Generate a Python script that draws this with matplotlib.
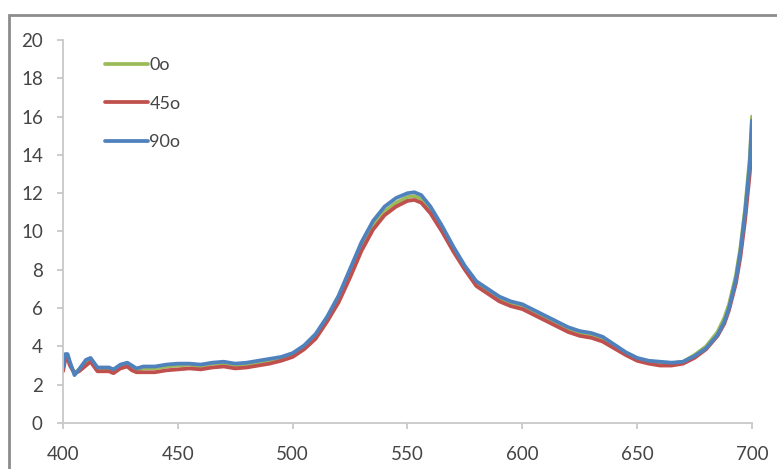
import numpy as np
import matplotlib.pyplot as plt
from matplotlib.patches import Rectangle

# wavelength (nm) and the three spectra
wl = [400, 401, 402, 403, 405, 407, 410, 412, 415, 418, 420, 422, 425, 428, 430, 432, 435,
      440, 445, 450, 455, 460, 465, 470, 475, 480, 485, 490, 495, 500, 505, 510, 515, 520,
      525, 530, 535, 540, 545, 550, 553, 556, 560, 565, 570, 575, 580, 585, 590, 595, 600,
      605, 610, 615, 620, 625, 630, 635, 640, 645, 650, 655, 660, 665, 670, 675, 680, 685,
      688, 690, 693, 695, 697, 699, 700]

deg0 = [2.8, 3.5, 3.5, 3.1, 2.6, 2.8, 3.2, 3.3, 2.8, 2.85, 2.8, 2.7, 3.0, 3.05, 2.9, 2.75, 2.85,
        2.85, 2.95, 3.0, 3.05, 2.95, 3.1, 3.1, 3.0, 3.05, 3.15, 3.25, 3.35, 3.55, 3.95, 4.55, 5.45, 6.5,
        7.9, 9.3, 10.35, 11.05, 11.5, 11.8, 11.85, 11.7, 11.15, 10.15, 9.1, 8.1, 7.3, 6.9, 6.5, 6.25, 6.1,
        5.8, 5.5, 5.2, 4.9, 4.7, 4.6, 4.4, 4.05, 3.65, 3.35, 3.2, 3.15, 3.1, 3.2, 3.55, 4.0, 4.75,
        5.5, 6.2, 7.7, 9.2, 11.2, 13.8, 16.0]

deg45 = [2.7, 3.3, 3.4, 3.0, 2.6, 2.7, 3.0, 3.2, 2.7, 2.7, 2.7, 2.6, 2.85, 2.95, 2.75, 2.65, 2.65,
         2.65, 2.75, 2.8, 2.85, 2.8, 2.9, 2.95, 2.85, 2.9, 3.0, 3.1, 3.25, 3.45, 3.85, 4.4, 5.3, 6.3,
         7.6, 9.0, 10.1, 10.85, 11.3, 11.6, 11.65, 11.5, 10.95, 10.0, 8.95, 8.0, 7.15, 6.75, 6.35, 6.1, 5.95,
         5.65, 5.35, 5.05, 4.75, 4.55, 4.45, 4.25, 3.9, 3.55, 3.25, 3.1, 3.0, 3.0, 3.1, 3.4, 3.85, 4.55,
         5.2, 5.9, 7.3, 8.7, 10.6, 13.0, 14.5]

deg90 = [2.9, 3.6, 3.6, 3.2, 2.5, 2.8, 3.3, 3.4, 2.9, 2.9, 2.9, 2.8, 3.05, 3.15, 3.0, 2.85, 2.95,
         2.95, 3.05, 3.1, 3.1, 3.05, 3.15, 3.2, 3.1, 3.15, 3.25, 3.35, 3.45, 3.65, 4.05, 4.65, 5.55, 6.65,
         8.05, 9.45, 10.55, 11.3, 11.75, 12.0, 12.05, 11.9, 11.3, 10.3, 9.2, 8.2, 7.4, 7.0, 6.6, 6.35, 6.2,
         5.9, 5.6, 5.3, 5.0, 4.8, 4.7, 4.5, 4.1, 3.7, 3.4, 3.25, 3.2, 3.15, 3.2, 3.5, 3.9, 4.6,
         5.3, 6.0, 7.5, 9.0, 11.0, 13.5, 15.8]

labels = ['0o', '45o', '90o']
colors = ['#9BBB59', '#C0504D', '#4F81BD']

plt.rcParams['font.family'] = ['Lato', 'DejaVu Sans']

fig = plt.figure(figsize=(7.77, 4.69), dpi=100)
ax = fig.add_axes([63 / 777, 1 - 423 / 469, (752 - 63) / 777, (423 - 40) / 469])

for ys, lab, c in zip([deg0, deg45, deg90], labels, colors):
    ax.plot(wl, ys, color=c, lw=2.7, label=lab, solid_capstyle='round')

ax.set_xlim(400, 700)
ax.set_ylim(0, 20)
ax.set_xticks(np.arange(400, 701, 50))
ax.set_yticks(np.arange(0, 21, 2))

for s in ['top', 'right']:
    ax.spines[s].set_visible(False)
for s in ['left', 'bottom']:
    ax.spines[s].set_color('#C8C8C8')
    ax.spines[s].set_linewidth(1.3)
ax.tick_params(colors='#C8C8C8', labelcolor='#454545', labelsize=13.5, length=4.5, width=1.3,
               direction='out')
ax.tick_params(axis='y', pad=10)
ax.tick_params(axis='x', pad=12)

leg = ax.legend(loc='upper left', bbox_to_anchor=((96 - 63) / 689, (423 - 48) / 383), frameon=False,
                fontsize=13, handlelength=2.4, handletextpad=0.05, labelspacing=1.25, borderpad=0)
for t in leg.get_texts():
    t.set_color('#454545')

# grey frame around the chart area
fig.patches.append(Rectangle((9 / 777, -0.1), 1.2, 1 - 15 / 469 + 0.1, transform=fig.transFigure,
                             fill=False, edgecolor='#8C8C8C', lw=2, clip_on=False))

fig.savefig('out.png', dpi=100)
